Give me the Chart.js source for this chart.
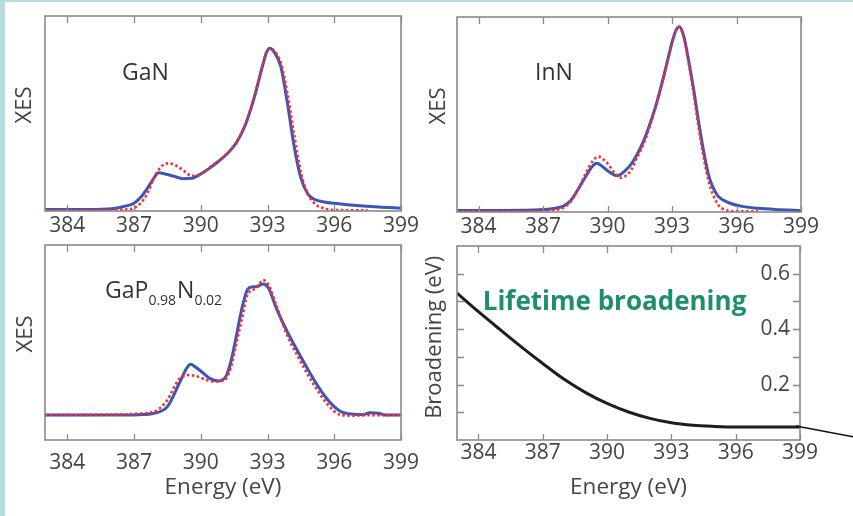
<!DOCTYPE html>
<html><head><meta charset="utf-8">
<script src="https://cdn.jsdelivr.net/npm/chart.js@4/dist/chart.umd.min.js"></script>
<style>
html,body{margin:0;padding:0;background:#fff;}
body{width:853px;height:516px;position:relative;overflow:hidden;}
#stripL{position:absolute;left:0;top:0;width:5px;height:516px;background:#b5dde2;}
#stripT{position:absolute;left:0;top:0;width:853px;height:2px;background:#b5dde2;}
canvas{position:absolute;}
</style></head><body>
<div id="stripL"></div><div id="stripT"></div>
<canvas id="c1" width="430" height="240" style="left:0;top:0;width:430px;height:240px"></canvas>
<canvas id="c2" width="433" height="240" style="left:420px;top:0;width:433px;height:240px"></canvas>
<canvas id="c3" width="430" height="276" style="left:0;top:240px;width:430px;height:276px"></canvas>
<canvas id="c4" width="433" height="276" style="left:420px;top:240px;width:433px;height:276px"></canvas>
<script>
// ---------- data ----------
const energyTicks = [384, 387, 390, 393, 396, 399];

const ganBlueE = [383, 384, 385, 386, 386.5, 387, 387.3, 387.6, 387.9, 388.1, 388.4, 388.8, 389.2, 389.6, 390, 390.4, 390.8, 391.2, 391.6, 392, 392.4, 392.7, 392.95, 393.1, 393.3, 393.6, 393.9, 394.2, 394.5, 394.8, 395.1, 395.6, 396, 397, 398, 399];
const ganBlueI = [0.008, 0.008, 0.008, 0.012, 0.022, 0.04, 0.07, 0.116, 0.17, 0.196, 0.19, 0.178, 0.166, 0.168, 0.19, 0.22, 0.255, 0.295, 0.35, 0.44, 0.58, 0.71, 0.81, 0.834, 0.815, 0.74, 0.55, 0.33, 0.17, 0.09, 0.06, 0.045, 0.04, 0.028, 0.02, 0.015];
const ganRedE = [383, 384, 385, 386, 386.5, 387, 387.3, 387.6, 387.9, 388.2, 388.55, 388.9, 389.2, 389.6, 390, 390.4, 390.8, 391.2, 391.6, 392, 392.4, 392.7, 392.95, 393.1, 393.3, 393.6, 393.9, 394.2, 394.5, 394.8, 395.1, 395.5, 396, 397, 397.5];
const ganRedI = [0.004, 0.004, 0.004, 0.005, 0.007, 0.015, 0.04, 0.09, 0.17, 0.225, 0.245, 0.232, 0.21, 0.18, 0.19, 0.222, 0.257, 0.297, 0.352, 0.445, 0.585, 0.715, 0.815, 0.834, 0.82, 0.76, 0.6, 0.39, 0.2, 0.09, 0.04, 0.015, 0.005, 0.004, 0.004];

const innBlueE = [383, 385, 386.5, 387.5, 387.95, 388.3, 388.6, 389.0, 389.3, 389.5, 389.75, 390.0, 390.45, 390.8, 391.1, 391.4, 391.7, 392.0, 392.3, 392.6, 392.8, 393.0, 393.2, 393.35, 393.55, 393.8, 394.0, 394.3, 394.7, 395.1, 395.4, 395.7, 396.2, 397, 398, 399];
const innBlueI = [0.008, 0.008, 0.01, 0.018, 0.03, 0.06, 0.11, 0.185, 0.235, 0.25, 0.235, 0.212, 0.186, 0.21, 0.245, 0.3, 0.37, 0.46, 0.565, 0.69, 0.78, 0.87, 0.935, 0.95, 0.9, 0.76, 0.634, 0.42, 0.19, 0.087, 0.06, 0.045, 0.03, 0.019, 0.012, 0.007];
const innRedE = [383, 385, 386.5, 387.5, 387.95, 388.3, 388.6, 389.0, 389.3, 389.58, 389.8, 390.0, 390.3, 390.6, 390.9, 391.1, 391.4, 391.7, 392.0, 392.3, 392.6, 392.8, 393.0, 393.2, 393.35, 393.55, 393.8, 394.0, 394.3, 394.7, 395.1, 395.5, 396, 397];
const innRedI = [0.004, 0.004, 0.005, 0.01, 0.022, 0.055, 0.11, 0.2, 0.26, 0.284, 0.27, 0.25, 0.205, 0.176, 0.19, 0.215, 0.285, 0.355, 0.45, 0.56, 0.685, 0.775, 0.865, 0.935, 0.95, 0.895, 0.75, 0.61, 0.39, 0.16, 0.045, 0.01, 0.004, 0.004];

const gapBlueE = [383, 386, 387.2, 387.9, 388.5, 389.0, 389.35, 389.55, 389.75, 390.0, 390.4, 390.8, 391.15, 391.35, 391.55, 391.85, 392.1, 392.3, 392.5, 392.8, 393.05, 393.4, 393.85, 394.45, 395.05, 395.65, 396.25, 396.85, 397.3, 397.6, 398.0, 398.3, 399];
const gapBlueI = [0.128, 0.128, 0.13, 0.137, 0.171, 0.282, 0.365, 0.388, 0.375, 0.354, 0.316, 0.303, 0.33, 0.4, 0.504, 0.675, 0.772, 0.785, 0.786, 0.8, 0.778, 0.675, 0.564, 0.436, 0.316, 0.214, 0.149, 0.132, 0.13, 0.14, 0.137, 0.128, 0.128];
const gapRedE = [383, 386, 387.2, 387.9, 388.5, 389.0, 389.45, 389.8, 390.2, 390.6, 390.9, 391.15, 391.35, 391.55, 391.85, 392.1, 392.5, 392.8, 393.05, 393.4, 393.85, 394.45, 395.05, 395.65, 396.25, 396.85, 397.5, 399];
const gapRedI = [0.128, 0.13, 0.135, 0.145, 0.205, 0.308, 0.333, 0.328, 0.31, 0.3, 0.302, 0.316, 0.37, 0.47, 0.62, 0.744, 0.778, 0.82, 0.795, 0.69, 0.547, 0.41, 0.29, 0.19, 0.13, 0.125, 0.127, 0.128];

const broadE = [383, 384, 385, 386, 387, 388, 389, 390, 391, 392, 393, 394, 395, 396, 397, 398, 399];
const broadV = [0.53, 0.463, 0.399, 0.336, 0.276, 0.219, 0.171, 0.132, 0.101, 0.078, 0.062, 0.053, 0.049, 0.047, 0.047, 0.047, 0.047];
const broadTicks = [0.1, 0.2, 0.3, 0.4, 0.5, 0.6];
const broadTickLabels = ['', '0.2', '', '0.4', '', '0.6'];

// ---------- styling ----------
const FONT = 'Open Sans';
const TXT = '#454545';
const FRAME = '#8a8a8a';
const BLUE = '#3a56b8';
const RED = '#ff2a2a';

function pts(xs, ys) { return xs.map((x, i) => ({x: x, y: ys[i]})); }

const framePlugin = {
  id: 'frame',
  afterDraw(chart, args, opts) {
    const {ctx, chartArea: a} = chart;
    const xs = chart.scales.x;
    ctx.save();
    ctx.strokeStyle = FRAME;
    ctx.lineWidth = 1.6;
    ctx.strokeRect(a.left, a.top, a.right - a.left, a.bottom - a.top);
    ctx.lineWidth = 1.3;
    ctx.beginPath();
    energyTicks.forEach(v => {
      const px = Math.round(xs.getPixelForValue(v)) + 0.5;
      ctx.moveTo(px, a.top); ctx.lineTo(px, a.top + 7);
      ctx.moveTo(px, a.bottom); ctx.lineTo(px, a.bottom - 6);
    });
    if (opts.yTicks) {
      const ys = chart.scales.y;
      opts.yTicks.forEach(v => {
        const py = Math.round(ys.getPixelForValue(v)) + 0.5;
        ctx.moveTo(a.left, py); ctx.lineTo(a.left + 7, py);
        ctx.moveTo(a.right, py); ctx.lineTo(a.right - 7, py);
      });
    }
    ctx.stroke();
    ctx.restore();
  }
};

const labelPlugin = {
  id: 'panelLabel',
  afterDraw(chart, args, opts) {
    if (!opts.parts) return;
    const {ctx} = chart;
    const xs = chart.scales.x, ys = chart.scales.y;
    let x = xs.getPixelForValue(opts.x);
    const y = ys.getPixelForValue(opts.y);
    ctx.save();
    ctx.textBaseline = 'alphabetic';
    ctx.textAlign = 'left';
    opts.parts.forEach(p => {
      ctx.font = (p.bold ? 'bold ' : '') + p.size + 'px "' + (p.family || FONT) + '"';
      ctx.fillStyle = p.color || '#333';
      ctx.fillText(p.text, x, y + (p.dy || 0));
      x += ctx.measureText(p.text).width + (p.gap || 0);
    });
    if (opts.leader) {
      const lx = xs.getPixelForValue(broadE[broadE.length - 1]);
      const ly = ys.getPixelForValue(broadV[broadV.length - 1]);
      ctx.strokeStyle = '#111';
      ctx.lineWidth = 1.4;
      ctx.beginPath();
      ctx.moveTo(lx - 4, ly - 1);
      ctx.lineTo(chart.width, ly - 1 + (chart.width - lx + 4) * 0.19);
      ctx.stroke();
    }
    ctx.restore();
  }
};

function xAxis(g, showTitle) {
  return {
    type: 'linear', min: 383, max: 399,
    afterBuildTicks: s => { s.ticks = energyTicks.map(v => ({value: v})); },
    afterFit: s => { s.height = g.xH; },
    grid: {display: false, drawTicks: false},
    border: {display: false},
    ticks: {color: TXT, font: {family: FONT, size: 21}, padding: g.tickPad, autoSkip: false, maxRotation: 0, callback: v => String(v)},
    title: {display: showTitle, text: 'Energy (eV)', color: TXT, font: {family: FONT, size: 22.5}, padding: {top: 0, bottom: 14.8}}
  };
}

function xesChart(id, blueE, blueI, redE, redI, g, label, showTitle) {
  return new Chart(document.getElementById(id), {
    type: 'line',
    data: {
      datasets: [
        {data: pts(redE, redI), borderColor: RED, borderWidth: 2.6, borderDash: [2.5, 2.5], pointRadius: 0, cubicInterpolationMode: 'monotone', fill: false},
        {data: pts(blueE, blueI), borderColor: BLUE, borderWidth: 3, pointRadius: 0, cubicInterpolationMode: 'monotone', fill: false}
      ]
    },
    options: {
      responsive: false, animation: false, devicePixelRatio: 1,
      layout: {padding: {left: 0, top: g.padTop, right: g.padRight, bottom: 0}},
      plugins: {legend: {display: false}, tooltip: {enabled: false}, frame: {}, panelLabel: label},
      scales: {
        x: xAxis(g, showTitle),
        y: {
          min: 0, max: 1,
          afterFit: s => { s.width = g.yW; },
          grid: {display: false, drawTicks: false}, border: {display: false},
          ticks: {display: false},
          title: {display: true, text: '   XES', color: TXT, font: {family: FONT, size: 22}, padding: {top: g.yTitlePad, bottom: 0}}
        }
      }
    },
    plugins: [framePlugin, labelPlugin]
  });
}

xesChart('c1', ganBlueE, ganBlueI, ganRedE, ganRedI,
  {yW: 45, padTop: 16, padRight: 29, xH: 29, tickPad: 2.4, yTitlePad: 11.8},
  {x: 386.46, y: 0.67, parts: [{text: 'GaN', size: 23}]}, false);

xesChart('c2', innBlueE, innBlueI, innRedE, innRedI,
  {yW: 37, padTop: 17, padRight: 52, xH: 28, tickPad: 2.9, yTitlePad: 5.8},
  {x: 386.63, y: 0.677, parts: [{text: 'InN', size: 23}]}, false);

xesChart('c3', gapBlueE, gapBlueI, gapRedE, gapRedI,
  {yW: 45, padTop: 5, padRight: 29, xH: 76, tickPad: 10.4, yTitlePad: 12.3},
  {x: 385.7, y: 0.728, parts: [
    {text: 'GaP', size: 23},
    {text: '0.98', size: 14, dy: 7, gap: 1},
    {text: 'N', size: 23},
    {text: '0.02', size: 14, dy: 7}
  ]}, true);

new Chart(document.getElementById('c4'), {
  type: 'line',
  data: {
    datasets: [
      {data: pts(broadE, broadV), yAxisID: 'y', borderColor: '#1e1e1e', borderWidth: 3, pointRadius: 0, cubicInterpolationMode: 'monotone', fill: false}
    ]
  },
  options: {
    responsive: false, animation: false, devicePixelRatio: 1,
    layout: {padding: {left: 0, top: 6, right: 0, bottom: 0}},
    plugins: {legend: {display: false}, tooltip: {enabled: false},
      frame: {yTicks: broadTicks},
      panelLabel: {x: 384.2, y: 0.469, leader: true, parts: [{text: 'Lifetime broadening', size: 26, bold: true, color: '#1f8e6c'}]}
    },
    scales: {
      x: xAxis({xH: 76, tickPad: 0.4}, true),
      yL: {
        position: 'left', min: 0, max: 0.7,
        afterFit: s => { s.width = 37; },
        grid: {display: false, drawTicks: false}, border: {display: false},
        ticks: {display: false},
        title: {display: true, text: '  Broadening (eV)', color: TXT, font: {family: FONT, size: 22}, padding: {top: 1.8, bottom: 0}}
      },
      y: {
        position: 'right', min: 0, max: 0.7,
        afterBuildTicks: s => { s.ticks = broadTicks.map(v => ({value: v})); },
        afterFit: s => { s.width = 53; },
        grid: {display: false, drawTicks: false}, border: {display: false},
        ticks: {mirror: true, padding: -10, color: TXT, font: {family: FONT, size: 21}, callback: (v, i) => broadTickLabels[i]}
      }
    }
  },
  plugins: [framePlugin, labelPlugin]
});
</script>
</body></html>
